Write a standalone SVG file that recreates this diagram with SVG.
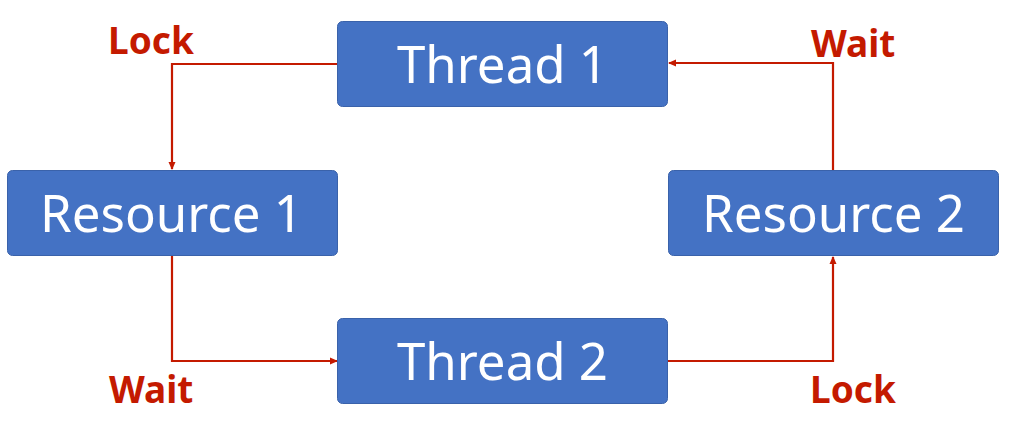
<svg xmlns="http://www.w3.org/2000/svg" width="1010" height="432" viewBox="0 0 1010 432">
<style>
.box{fill:#4472C4;stroke:#3A62AA;stroke-width:1}
.t{font-family:"Noto Sans","Open Sans",sans-serif;font-size:51px;fill:#fff;text-anchor:middle}
.lbl{font-family:"Noto Sans","Open Sans",sans-serif;font-size:37px;font-weight:bold;fill:#C41A00}
.c{fill:none;stroke:#C41A00;stroke-width:2.2}
</style>
<defs>
<marker id="ah" markerWidth="8" markerHeight="8" refX="7" refY="4" orient="auto" markerUnits="userSpaceOnUse">
<path d="M0,0.5 L8,4 L0,7.5 Z" fill="#C41A00"/>
</marker>
</defs>
<g id="connectors">
<polyline class="c" points="337,64 172,64 172,169" marker-end="url(#ah)"/>
<polyline class="c" points="833,170 833,63 669,63" marker-end="url(#ah)"/>
<polyline class="c" points="172,256 172,361 337,361" marker-end="url(#ah)"/>
<polyline class="c" points="668,361 833,361 833,257" marker-end="url(#ah)"/>
</g>
<g id="thread1"><rect class="box" x="337.5" y="21.5" width="330" height="85" rx="5"/><text class="t" x="502.5" y="83">Thread 1</text></g>
<g id="resource1"><rect class="box" x="7.5" y="170.5" width="330" height="85" rx="5"/><text class="t" x="171.5" y="232">Resource 1</text></g>
<g id="resource2"><rect class="box" x="668.5" y="170.5" width="330" height="85" rx="5"/><text class="t" x="833.5" y="232">Resource 2</text></g>
<g id="thread2"><rect class="box" x="337.5" y="318.5" width="330" height="85" rx="5"/><text class="t" x="502.5" y="380">Thread 2</text></g>
<g id="labels">
<text class="lbl" x="108" y="54">Lock</text>
<text class="lbl" x="811" y="57">Wait</text>
<text class="lbl" x="109" y="403">Wait</text>
<text class="lbl" x="810" y="403">Lock</text>
</g>
</svg>
